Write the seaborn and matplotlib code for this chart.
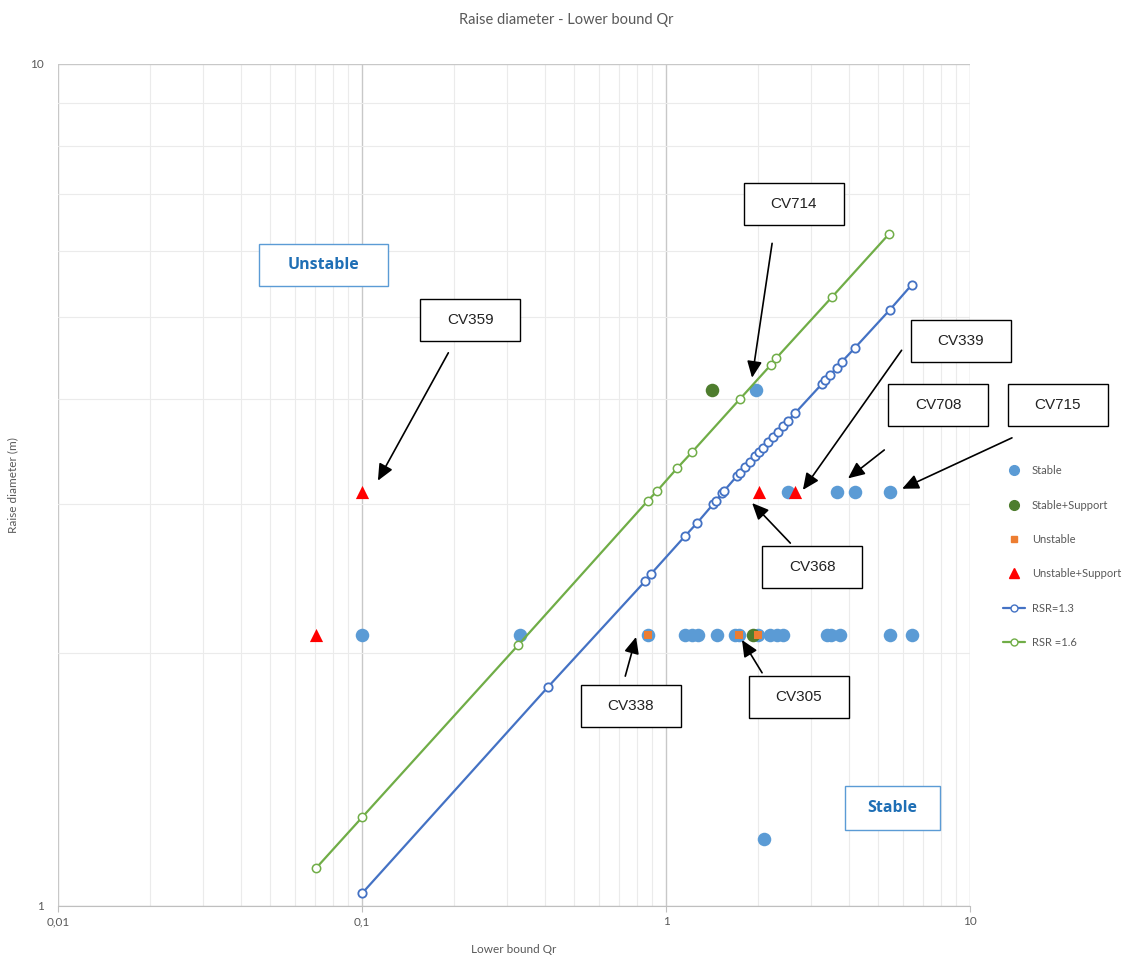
import numpy as np
import pandas as pd
import matplotlib
matplotlib.use("Agg")
import matplotlib.pyplot as plt
from matplotlib.patches import Rectangle
from matplotlib.lines import Line2D
from matplotlib.ticker import NullFormatter
import seaborn as sns

# scatter data (Lower bound Qr, Raise diameter m)
stable_q = [1.98, 2.52, 3.65, 4.18, 5.46, 0.1, 0.331, 0.872, 1.155, 1.218, 1.274, 1.47, 1.686,
            1.74, 2.01, 2.20, 2.32, 2.43, 3.38, 3.48, 3.73, 5.46, 6.44, 2.10]
stable_d = [4.1, 3.1, 3.1, 3.1, 3.1, 2.1, 2.1, 2.1, 2.1, 2.1, 2.1, 2.1, 2.1,
            2.1, 2.1, 2.1, 2.1, 2.1, 2.1, 2.1, 2.1, 2.1, 2.1, 1.2]
stable_sup_q = [1.417, 1.93]
stable_sup_d = [4.1, 2.1]
unstable_q = [0.872, 1.74, 2.01]
unstable_d = [2.1, 2.1, 2.1]
unstable_sup_q = [0.1, 0.0706, 2.02, 2.66]
unstable_sup_d = [3.1, 2.1, 3.1, 3.1]

# RSR design lines
rsr13_q = [0.1, 0.409, 0.853, 0.893, 1.155, 1.265, 1.428, 1.46, 1.53, 1.55, 1.71, 1.75, 1.82,
           1.89, 1.96, 2.02, 2.08, 2.17, 2.25, 2.33, 2.43, 2.52, 2.66, 3.26, 3.33, 3.46,
           3.65, 3.79, 4.18, 5.46, 6.44]
rsr13_d = [1.035, 1.82, 2.43, 2.48, 2.75, 2.85, 3.0, 3.03, 3.09, 3.11, 3.24, 3.27, 3.32,
           3.37, 3.42, 3.46, 3.50, 3.56, 3.61, 3.66, 3.72, 3.77, 3.85, 4.17, 4.21, 4.27,
           4.36, 4.43, 4.60, 5.11, 5.47]
rsr16_q = [0.0706, 0.1, 0.326, 0.872, 0.934, 1.087, 1.218, 1.75, 2.21, 2.30, 3.52, 5.41]
rsr16_d = [1.109, 1.274, 2.04, 3.03, 3.11, 3.31, 3.46, 4.00, 4.39, 4.47, 5.29, 6.28]

# callouts: label, arrow tip (data), arrow start (axes frac), box centre (axes frac)
callout_labels = ["CV714", "CV359", "CV339", "CV708", "CV715", "CV368", "CV338", "CV305"]
callout_tips = [(1.919, 4.24), (0.1128, 3.20), (2.82, 3.12), (3.97, 3.22),
                (5.98, 3.13), (1.92, 3.01), (0.797, 2.087), (1.778, 2.07)]
callout_starts = [(0.783, 0.787), (0.428, 0.657), (0.925, 0.660), (0.906, 0.5416),
                  (1.046, 0.556), (0.803, 0.431), (0.622, 0.273), (0.772, 0.277)]
callout_boxes = [(0.807, 0.834), (0.452, 0.696), (0.990, 0.671), (0.965, 0.595),
                 (1.096, 0.595), (0.827, 0.403), (0.628, 0.2375), (0.8125, 0.248)]

sns.set_style("white")
plt.rcParams['font.family'] = ['Lato', 'DejaVu Sans']

fig = plt.figure(figsize=(11.33, 9.56), dpi=100)
ax = fig.add_axes([58 / 1133, 50 / 956, 912 / 1133, 842 / 956])

c_stable = "#5B9BD5"
c_stsup = "#4E7D2E"
c_unst = "#ED7D31"
c_unsup = "#FF0000"
c_rsr13 = "#4472C4"
c_rsr16 = "#70AD47"

sns.scatterplot(x=stable_q, y=stable_d, ax=ax, color=c_stable, marker="o", s=95,
                linewidth=0, label="Stable", zorder=3)
sns.scatterplot(x=stable_sup_q, y=stable_sup_d, ax=ax, color=c_stsup, marker="o", s=95,
                linewidth=0, label="Stable+Support", zorder=3)
sns.scatterplot(x=unstable_q, y=unstable_d, ax=ax, color=c_unst, marker="s", s=30,
                linewidth=0, label="Unstable", zorder=3)
sns.scatterplot(x=unstable_sup_q, y=unstable_sup_d, ax=ax, color=c_unsup, marker="^", s=90,
                linewidth=0, label="Unstable+Support", zorder=3)

rsr13 = pd.DataFrame({"q": rsr13_q, "d": rsr13_d})
rsr16 = pd.DataFrame({"q": rsr16_q, "d": rsr16_d})
sns.lineplot(data=rsr13, x="q", y="d", ax=ax, sort=False, estimator=None, color=c_rsr13,
             linewidth=1.6, marker="o", markersize=6, markerfacecolor="white",
             markeredgecolor=c_rsr13, markeredgewidth=1.3, label="RSR=1.3", zorder=4)
sns.lineplot(data=rsr16, x="q", y="d", ax=ax, sort=False, estimator=None, color=c_rsr16,
             linewidth=1.6, marker="o", markersize=6, markerfacecolor="white",
             markeredgecolor=c_rsr16, markeredgewidth=1.1, label="RSR =1.6", zorder=4)

ax.set_xscale("log")
ax.set_yscale("log")
ax.set_xlim(0.01, 10)
ax.set_ylim(1, 10)

ax.grid(True, which="major", color="#C8C8C8", linewidth=1.0)
ax.grid(True, which="minor", color="#EBEBEB", linewidth=0.8)
ax.set_axisbelow(True)
for side in ["top", "right", "left"]:
    ax.spines[side].set_visible(False)
ax.spines["bottom"].set_color("#BFBFBF")

ax.set_xticks([0.01, 0.1, 1, 10])
ax.set_xticklabels(["0,01", "0,1", "1", "10"])
ax.set_yticks([1, 10])
ax.set_yticklabels(["1", "10"])
ax.xaxis.set_minor_formatter(NullFormatter())
ax.yaxis.set_minor_formatter(NullFormatter())
ax.tick_params(axis="both", which="major", labelsize=8.5, labelcolor="#595959",
               length=4, color="#BFBFBF")
ax.tick_params(axis="x", which="major", direction="out", bottom=True)
ax.tick_params(axis="y", which="major", left=False, pad=6)
ax.tick_params(which="minor", length=0)

ax.set_xlabel("Lower bound Qr", fontsize=8.5, color="#595959")
ax.xaxis.set_label_coords(0.5, -0.045)
ax.set_ylabel("Raise diameter (m)", fontsize=8.5, color="#595959")
ax.yaxis.set_label_coords(-0.044, 0.5)
fig.text(0.5, 1 - 20 / 956, "Raise diameter - Lower bound Qr", ha="center", va="center",
         fontsize=10.5, color="#595959")

# callout boxes with arrows
bw, bh = 100 / 912, 42 / 842
for lab, tip, start, box in zip(callout_labels, callout_tips, callout_starts, callout_boxes):
    ax.annotate("", xy=tip, xycoords="data", xytext=start, textcoords="axes fraction",
                arrowprops=dict(arrowstyle="-|>,head_length=1.0,head_width=0.45",
                                color="black", lw=1.2, shrinkA=0, shrinkB=0),
                annotation_clip=False, zorder=6)
    ax.add_patch(Rectangle((box[0] - bw / 2, box[1] - bh / 2), bw, bh, transform=ax.transAxes,
                           facecolor="white", edgecolor="black", linewidth=1.0,
                           clip_on=False, zorder=7))
    ax.text(box[0], box[1], lab, transform=ax.transAxes, ha="center", va="center",
            fontsize=11, family=["Liberation Sans", "DejaVu Sans"], color="#222222", zorder=8)

# region labels
ax.add_patch(Rectangle((0.220, 0.736), 0.1415, 0.05, transform=ax.transAxes,
                       facecolor="white", edgecolor="#5B9BD5", linewidth=1.0, zorder=7))
ax.text(0.220 + 0.1415 / 2, 0.761, "Unstable", transform=ax.transAxes, ha="center",
        va="center", fontsize=11.5, fontweight="bold", color="#1F6FB5", zorder=8,
        family=["Open Sans", "DejaVu Sans"])
ax.add_patch(Rectangle((0.863, 0.090), 0.104, 0.053, transform=ax.transAxes,
                       facecolor="white", edgecolor="#5B9BD5", linewidth=1.0, zorder=7))
ax.text(0.863 + 0.052, 0.1165, "Stable", transform=ax.transAxes, ha="center",
        va="center", fontsize=11.5, fontweight="bold", color="#1F6FB5", zorder=8,
        family=["Open Sans", "DejaVu Sans"])

handles = [
    Line2D([], [], linestyle="", marker="o", color=c_stable, markersize=7),
    Line2D([], [], linestyle="", marker="o", color=c_stsup, markersize=7),
    Line2D([], [], linestyle="", marker="s", color=c_unst, markersize=5),
    Line2D([], [], linestyle="", marker="^", color=c_unsup, markersize=7),
    Line2D([], [], color=c_rsr13, marker="o", markerfacecolor="white", markersize=5, lw=1.6),
    Line2D([], [], color=c_rsr16, marker="o", markerfacecolor="white", markersize=5, lw=1.6),
]
labels = ["Stable", "Stable+Support", "Unstable", "Unstable+Support", "RSR=1.3", "RSR =1.6"]
ax.legend(handles, labels, loc="center left", bbox_to_anchor=(1.025, 0.415), frameon=False,
          fontsize=8, labelcolor="#595959", labelspacing=2.1, handlelength=2.0,
          handletextpad=0.6)

fig.savefig("out.png", dpi=100)
